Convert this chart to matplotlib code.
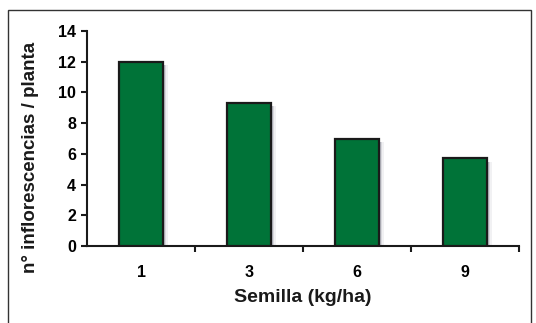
import matplotlib
matplotlib.use("Agg")
import matplotlib.pyplot as plt
from matplotlib.patches import Rectangle
import numpy as np

categories = ["1", "3", "6", "9"]
values = [12.0, 9.3, 7.0, 5.7]
yticks = [0, 2, 4, 6, 8, 10, 12, 14]

plt.rcParams['font.family'] = ['Liberation Sans', 'DejaVu Sans']

fig = plt.figure(figsize=(5.36, 3.23), dpi=100)
fig.patch.set_facecolor("white")

# outer frame
fig.patches.append(Rectangle((8 / 536, -0.01), 523 / 536, 1 - 10 / 323 + 0.01,
                             transform=fig.transFigure, fill=False,
                             edgecolor="#333333", linewidth=1.0, zorder=0))

ax = fig.add_axes([87 / 536, 1 - 246 / 323, 432 / 536, 215 / 323])
x = np.arange(len(categories))
width = 0.4

# soft drop shadows to the right of each bar
for i, v in enumerate(values):
    for k, a in enumerate([0.45, 0.32, 0.2, 0.1]):
        off = 0.012 + 0.012 * k
        ax.bar(x[i] + off, v - 0.2, width=width, bottom=0,
               color="#7a7a8c", alpha=a, linewidth=0, zorder=1)

ax.bar(x, values, width=width, color="#007338", edgecolor="#1a1a1a",
       linewidth=1.6, zorder=3)

ax.set_xlim(-0.5, 3.5)
ax.set_ylim(0, 14)
ax.set_yticks(yticks)
ax.set_yticklabels([str(t) for t in yticks], fontsize=11.5, fontweight="bold")
ax.set_xticks([0.5, 1.5, 2.5, 3.5])
ax.set_xticklabels([])
ax.set_xticks(x, minor=True)
ax.set_xticklabels(categories, minor=True, fontsize=11.5, fontweight="bold")
ax.tick_params(axis="x", which="major", direction="out", length=4, width=1.5, color="#1a1a1a")
ax.tick_params(axis="x", which="minor", length=0, pad=14)
ax.tick_params(axis="y", direction="out", length=4, width=1.5, color="#1a1a1a", pad=4)

for s in ["top", "right"]:
    ax.spines[s].set_visible(False)
for s in ["left", "bottom"]:
    ax.spines[s].set_linewidth(1.5)
    ax.spines[s].set_color("#1a1a1a")

ax.set_xlabel("Semilla (kg/ha)", fontsize=14, fontweight="bold", labelpad=6, color="#1a1a1a")
ax.set_ylabel("n° inflorescencias / planta", fontsize=13.5, fontweight="bold", color="#1a1a1a")
ax.yaxis.set_label_coords(-0.11, 0.41)

fig.savefig("out.png", dpi=100)
